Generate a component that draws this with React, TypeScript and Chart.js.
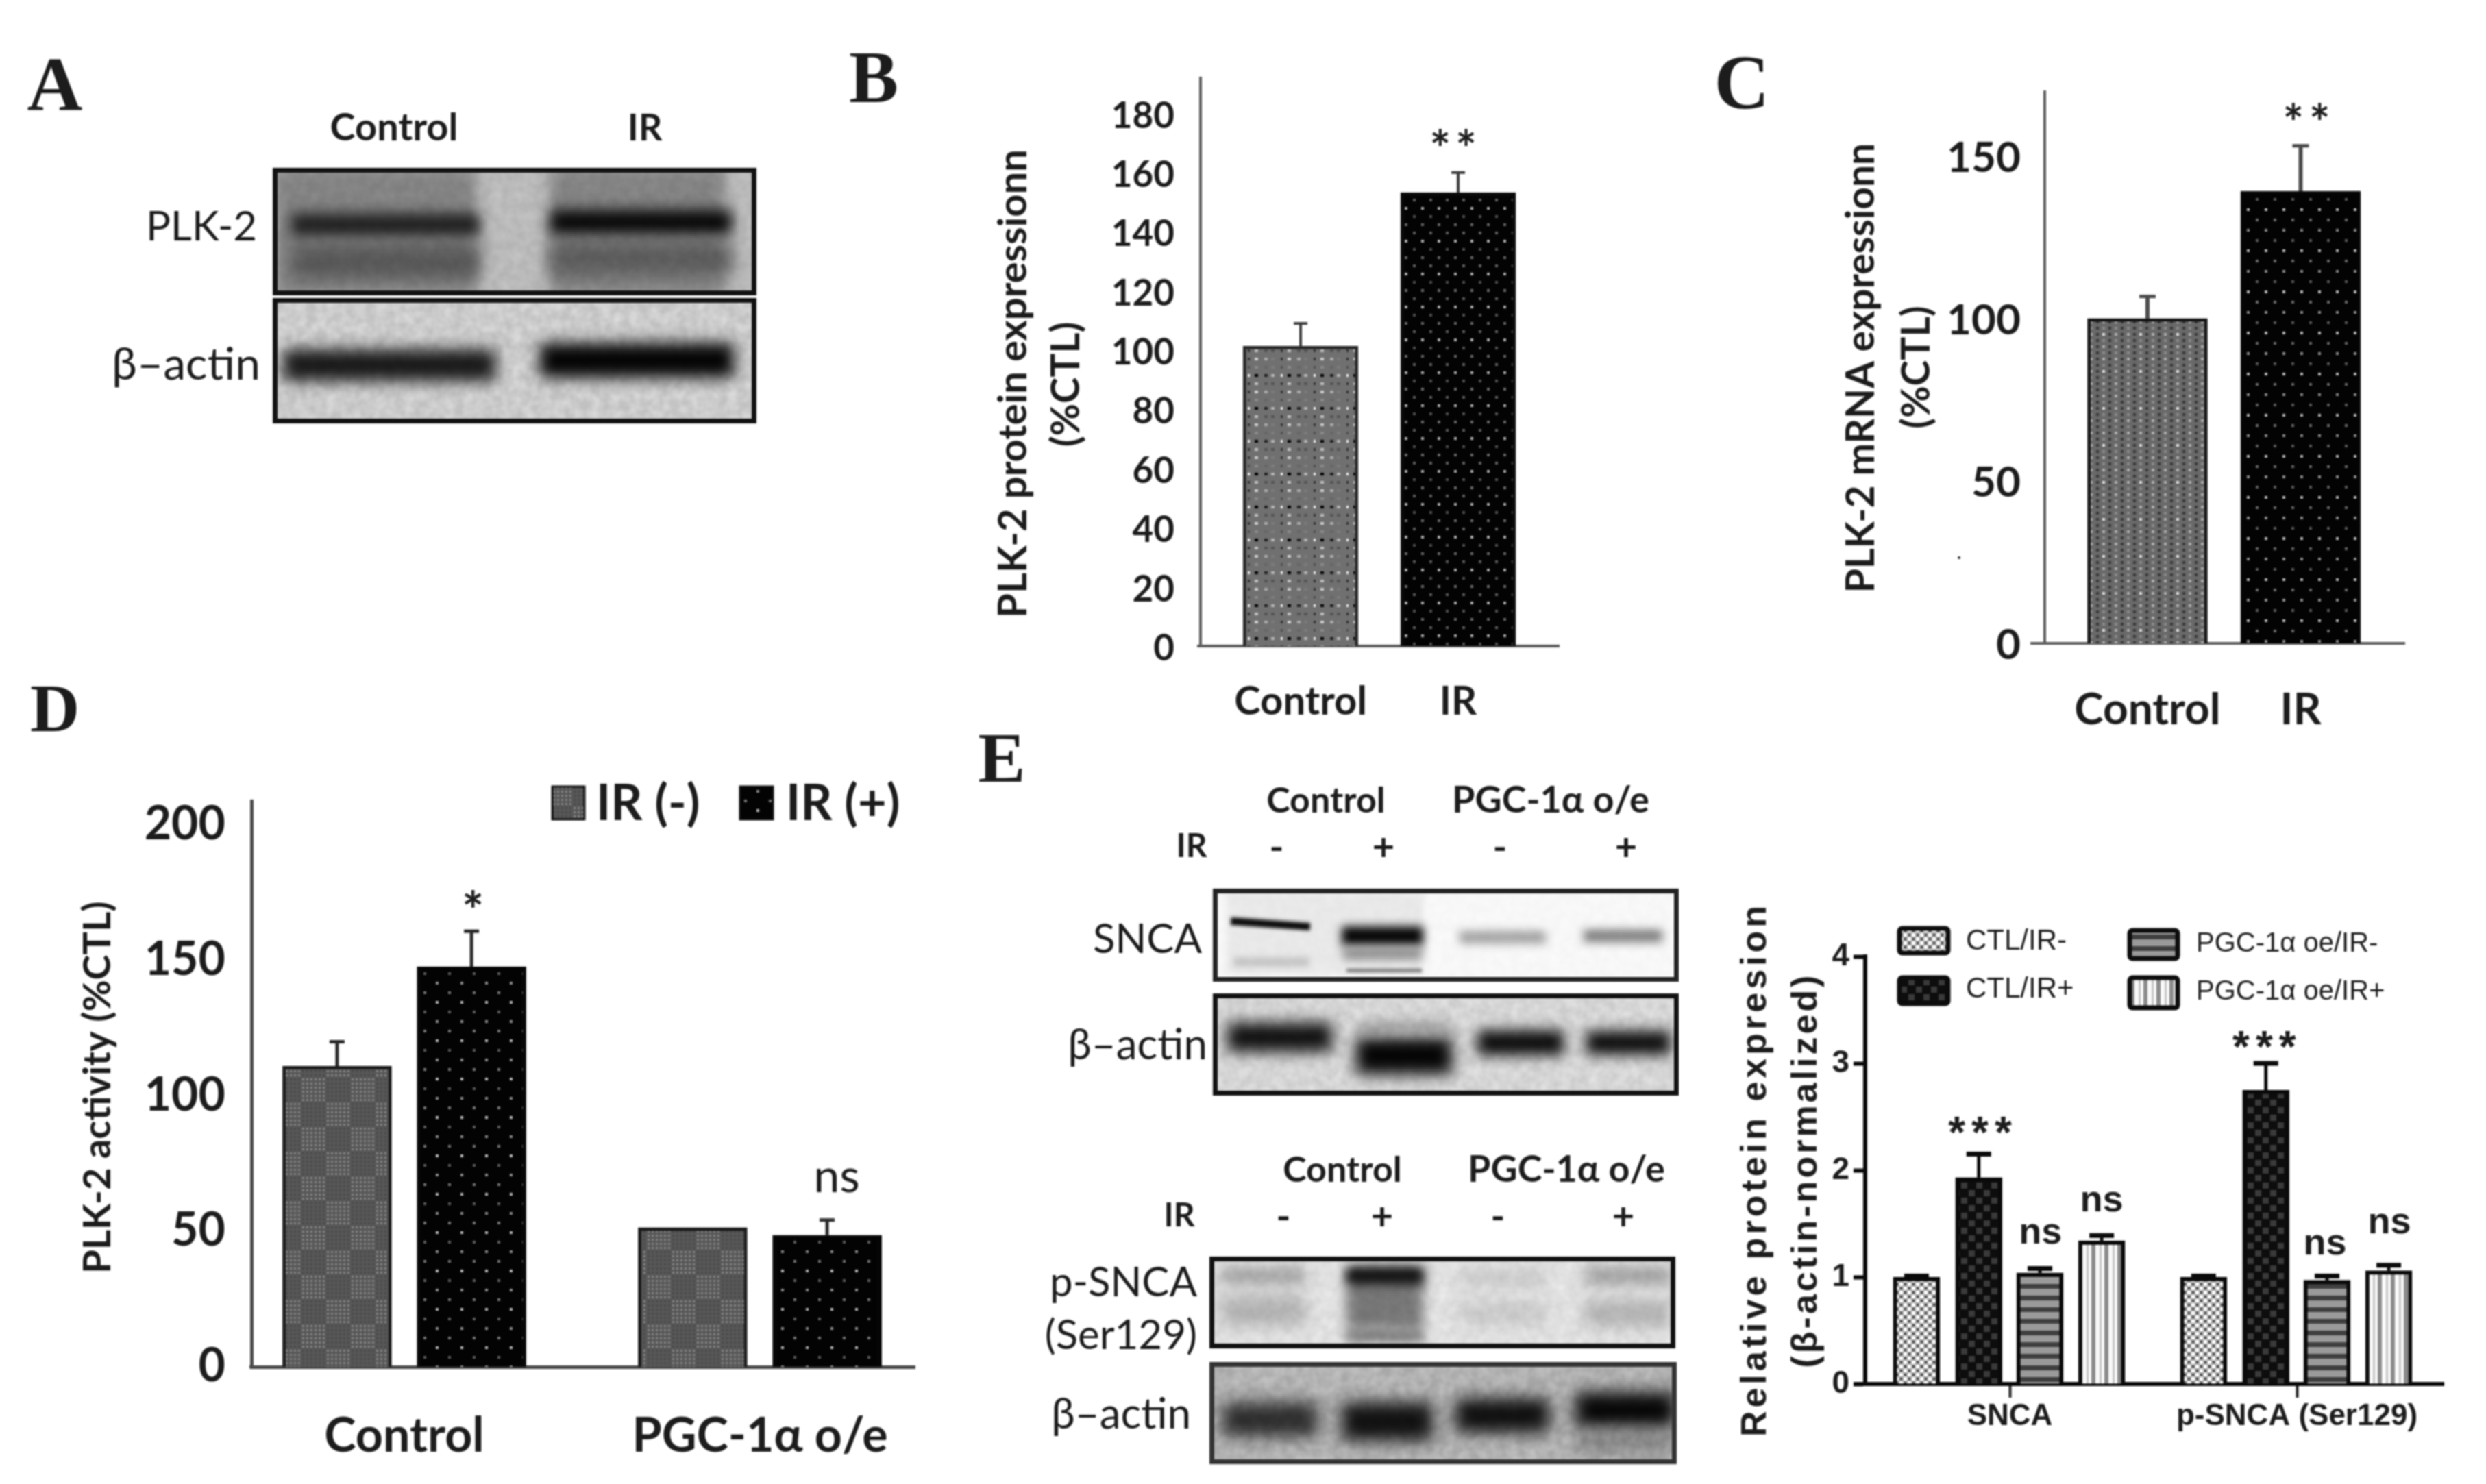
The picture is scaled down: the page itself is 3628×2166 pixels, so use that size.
import React, { useEffect, useRef } from 'react';
import { Chart, registerables } from 'chart.js';

Chart.register(...registerables);

const LATO = 'Lato, "Noto Sans", sans-serif';
const ARIAL = '"Liberation Sans", Arial, sans-serif';
const SERIF = '"Liberation Serif", "Times New Roman", serif';
const INK = '#1c1c1c';

// ---------- data ----------
const controlIrCategories = ['Control', 'IR'];
const proteinValues = [101.4, 153.2];
const proteinErrors = [7.6, 6.8];
const mrnaValues = [100, 139.2];
const mrnaErrors = [6.8, 14];

const activityCategories = ['Control', 'PGC-1α o/e'];
const activityIrMinus = [111, 51.4];
const activityIrMinusErrors = [9, 0];
const activityIrPlus = [147.7, 48.6];
const activityIrPlusErrors = [13.1, 5.6];

const snCategories = ['SNCA', 'p-SNCA (Ser129)'];
const ctlIrMinus = [1.0, 1.0];
const ctlIrMinusErrors = [0.01, 0.01];
const ctlIrPlus = [1.93, 2.75];
const ctlIrPlusErrors = [0.22, 0.25];
const pgcIrMinus = [1.04, 0.97];
const pgcIrMinusErrors = [0.04, 0.04];
const pgcIrPlus = [1.34, 1.06];
const pgcIrPlusErrors = [0.05, 0.05];

// ---------- hatch tiles ----------
type G = CanvasRenderingContext2D;
function tile(w: number, h: number, bg: string, draw: (g: G) => void) {
  const c = document.createElement('canvas');
  c.width = w;
  c.height = h;
  const g = c.getContext('2d') as G;
  g.fillStyle = bg;
  g.fillRect(0, 0, w, h);
  draw(g);
  return c;
}
function dotRows(g: G, xs: number[], rows: [number, string[]][], dw = 5, dh = 4) {
  rows.forEach(([y, cols]) =>
    cols.forEach((col, i) => {
      g.fillStyle = col;
      g.fillRect(xs[i], y, dw, dh);
    })
  );
}
function lattice(dx: number, dy: number, shades: string[], size = 4) {
  return tile(dx, dy * shades.length, '#030303', (g) => {
    shades.forEach((s, r) => {
      g.fillStyle = s;
      if (r % 2 === 0) g.fillRect(dx / 2 - size / 2, r * dy, size, size);
      else {
        g.fillRect(0, r * dy, size / 2, size);
        g.fillRect(dx - size / 2, r * dy, size / 2, size);
      }
    });
  });
}
const tiles: Record<string, () => HTMLCanvasElement> = {
  grayB: () =>
    tile(48, 48, '#707070', (g) =>
      dotRows(g, [7, 21, 31, 45], [
        [4, ['#000', '#222', '#b5b5b5', '#efefef']],
        [16, ['#c0c0c0', '#555', '#555', '#333']],
        [28, ['#cfcfcf', '#aaa', '#7a7a7a', '#333']],
        [40, ['#8a8a8a', '#666', '#7c7c7c', '#505050']],
      ])
    ),
  grayC: () =>
    tile(54, 54, '#696969', (g) => {
      for (let i = 0; i < 6; i++)
        for (let j = 0; j < 6; j++) {
          g.fillStyle = i % 2 === 1 ? '#383838' : j % 2 === 0 ? '#b0b0b0' : '#8a8a8a';
          if (i === 2 && j === 2) g.fillStyle = '#e2e2e2';
          g.fillRect(i * 9 + 2, j * 9 + 2, 4, 4);
        }
    }),
  grayD: () =>
    tile(72, 72, '#575757', (g) => {
      for (let i = 0; i < 12; i++)
        for (let j = 0; j < 12; j++) {
          const lit = i < 6 === j < 6;
          g.fillStyle = lit ? '#868686' : '#4a4a4a';
          g.fillRect(i * 6 + 1, j * 6 + 1, 3, 3);
        }
    }),
  blackB: () => lattice(24, 12, ['#b0b0b0', '#505050', '#6a6a6a', '#606060']),
  blackC: () => lattice(26, 15, ['#8c8c8c', '#5a5a5a', '#b8b8b8', '#6a6a6a']),
  blackD: () => lattice(36, 14, ['#b8b8b8', '#5c5c5c', '#8a8a8a', '#777777']),
  ctlMinus: () =>
    tile(12, 12, '#a8a8a8', (g) => {
      g.fillStyle = '#fff';
      g.fillRect(0, 0, 5, 5);
      g.fillRect(6, 6, 5, 5);
      g.fillStyle = '#3a3a3a';
      g.fillRect(7, 1, 3, 3);
      g.fillRect(1, 7, 3, 3);
    }),
  ctlPlus: () =>
    tile(22, 22, '#0d0d0d', (g) => {
      g.fillStyle = '#3a3a3a';
      g.fillRect(1, 1, 9, 9);
      g.fillRect(12, 12, 9, 9);
    }),
  pgcMinus: () =>
    tile(17, 17, '#9a9a9a', (g) => {
      g.fillStyle = '#3f3f3f';
      g.fillRect(0, 0, 17, 7);
    }),
  pgcPlus: () =>
    tile(19, 19, '#fafafa', (g) => {
      g.fillStyle = '#8a8a8a';
      g.fillRect(0, 0, 6, 19);
      g.fillStyle = '#c4c4c4';
      g.fillRect(12, 0, 3, 19);
    }),
};

// ---------- panel descriptions ----------
type Note = { text: string; x: number; y: number; size: number; weight?: string; family?: string; ls?: number; dy?: number };
type PageText = { text: string; x: number; y: number; size: number; weight?: string; family?: string; rot?: boolean; ls?: number; align?: CanvasTextAlign };
type Swatch = { fill: string; x0: number; y0: number; x1: number; y1: number; bw: number; r?: number };
type Series = { label: string; values: number[]; errors: number[]; offset: number; fill: string; border: string };
type Spec = {
  area: [number, number, number, number];
  yW: number; xH: number; padTop: number; padRight: number;
  yMax: number; yStep: number; xMin: number; xMax: number;
  categories: string[]; series: Series[];
  barW: number; barBorder: number;
  tickFont: { family: string; size: number; weight: string };
  xFont: { family: string; size: number; weight: string };
  yPad: number; yLabelShift: number; xLabelY: number;
  axisColor: string; axisW: number; extendLeft: number;
  yTickLen: number; xTickLen: number; tickColor: string; tickW: number;
  err: { color: string; w: number; cap: number; capW: number };
  notes: Note[]; pageTexts: PageText[]; swatches: Swatch[];
};

const boldLato = (size: number) => ({ family: LATO, size, weight: 'bold' });
const boldArial = (size: number) => ({ family: ARIAL, size, weight: 'bold' });

const panelB: Spec = {
  area: [1752, 114, 2275, 943], yW: 360, xH: 130, padTop: 100, padRight: 100,
  yMax: 191.9, yStep: 20, xMin: -0.635, xMax: 1.639,
  categories: controlIrCategories,
  series: [{ label: 'PLK-2 protein', values: proteinValues, errors: proteinErrors, offset: 0, fill: 'grayB|blackB', border: '#2a2a2a|#0a0a0a' }],
  barW: 168, barBorder: 5,
  tickFont: boldLato(53), xFont: boldLato(58),
  yPad: 38, yLabelShift: 4, xLabelY: 1024,
  axisColor: '#5a5a5a', axisW: 4, extendLeft: 5,
  yTickLen: 0, xTickLen: 0, tickColor: '#555', tickW: 2,
  err: { color: '#3a3a3a', w: 4, cap: 20, capW: 4 },
  notes: [{ text: '**', x: 0.983, y: 170.4, size: 72, weight: 'bold', family: LATO, ls: 7, dy: 14 }],
  pageTexts: [
    { text: 'PLK-2 protein expressionn', x: 1479, y: 560, size: 58, weight: 'bold', family: LATO, rot: true },
    { text: '(%CTL)', x: 1556, y: 561, size: 58, weight: 'bold', family: LATO, rot: true },
  ],
  swatches: [],
};

const panelC: Spec = {
  area: [2984, 134, 3509, 939], yW: 314, xH: 140, padTop: 100, padRight: 100,
  yMax: 169.8, yStep: 50, xMin: -0.671, xMax: 1.678,
  categories: controlIrCategories,
  series: [{ label: 'PLK-2 mRNA', values: mrnaValues, errors: mrnaErrors, offset: 0, fill: 'grayC|blackC', border: '#151515|#050505' }],
  barW: 175, barBorder: 5,
  tickFont: boldLato(62), xFont: boldLato(64),
  yPad: 35, yLabelShift: 3, xLabelY: 1036,
  axisColor: '#5a5a5a', axisW: 4, extendLeft: 21,
  yTickLen: 0, xTickLen: 0, tickColor: '#555', tickW: 2,
  err: { color: '#4a4a4a', w: 6, cap: 24, capW: 5 },
  notes: [{ text: '**', x: 1.056, y: 162.4, size: 72, weight: 'bold', family: LATO, ls: 8, dy: 14 }],
  pageTexts: [
    { text: 'PLK-2 mRNA expressionn', x: 2717, y: 537, size: 57, weight: 'bold', family: LATO, rot: true },
    { text: '(%CTL)', x: 2798, y: 536, size: 57, weight: 'bold', family: LATO, rot: true },
    { text: '.', x: 2859, y: 808, size: 26, weight: 'bold', family: LATO },
  ],
  swatches: [],
};

const panelD: Spec = {
  area: [367, 1169, 1335, 1995], yW: 287, xH: 160, padTop: 100, padRight: 120,
  yMax: 208.9, yStep: 50, xMin: -0.4297, xMax: 1.4355,
  categories: activityCategories,
  series: [
    { label: 'IR (-)', values: activityIrMinus, errors: activityIrMinusErrors, offset: -0.189, fill: 'grayD', border: '#1c1c1c' },
    { label: 'IR (+)', values: activityIrPlus, errors: activityIrPlusErrors, offset: 0.189, fill: 'blackD', border: '#050505' },
  ],
  barW: 159, barBorder: 5,
  tickFont: boldLato(68), xFont: boldLato(70),
  yPad: 38, yLabelShift: -1, xLabelY: 2096,
  axisColor: '#4a4a4a', axisW: 5, extendLeft: 3,
  yTickLen: 0, xTickLen: 0, tickColor: '#555', tickW: 2,
  err: { color: '#2a2a2a', w: 5, cap: 22, capW: 5 },
  notes: [
    { text: '*', x: 0.193, y: 171, size: 76, weight: 'bold', family: LATO, dy: 14 },
    { text: 'ns', x: 1.216, y: 70, size: 68, weight: 'normal', family: LATO },
  ],
  pageTexts: [
    { text: 'PLK-2 activity (%CTL)', x: 143, y: 1587, size: 56, weight: 'bold', family: LATO, rot: true },
    { text: 'IR (-)', x: 870, y: 1174, size: 72, weight: 'bold', family: LATO, align: 'left' },
    { text: 'IR (+)', x: 1147, y: 1174, size: 72, weight: 'bold', family: LATO, align: 'left' },
  ],
  swatches: [
    { fill: 'grayD', x0: 806, y0: 1148, x1: 853, y1: 1196, bw: 3 },
    { fill: 'blackD', x0: 1080, y0: 1148, x1: 1128, y1: 1196, bw: 3 },
  ],
};

const panelE: Spec = {
  area: [2722, 1396, 3566, 2020], yW: 202, xH: 90, padTop: 100, padRight: 40,
  yMax: 4, yStep: 1, xMin: -0.5036, xMax: 1.5107,
  categories: snCategories,
  series: [
    { label: 'CTL/IR-', values: ctlIrMinus, errors: ctlIrMinusErrors, offset: -0.325, fill: 'ctlMinus', border: '#0a0a0a' },
    { label: 'CTL/IR+', values: ctlIrPlus, errors: ctlIrPlusErrors, offset: -0.108, fill: 'ctlPlus', border: '#0a0a0a' },
    { label: 'PGC-1α oe/IR-', values: pgcIrMinus, errors: pgcIrMinusErrors, offset: 0.105, fill: 'pgcMinus', border: '#0a0a0a' },
    { label: 'PGC-1α oe/IR+', values: pgcIrPlus, errors: pgcIrPlusErrors, offset: 0.32, fill: 'pgcPlus', border: '#0a0a0a' },
  ],
  barW: 68, barBorder: 6,
  tickFont: boldArial(46), xFont: boldArial(44),
  yPad: 6, yLabelShift: 0, xLabelY: 2068,
  axisColor: '#0a0a0a', axisW: 6, extendLeft: 17,
  yTickLen: 17, xTickLen: 20, tickColor: '#222', tickW: 4,
  err: { color: '#0a0a0a', w: 5, cap: 36, capW: 7 },
  notes: [
    { text: '***', x: -0.093, y: 2.4, size: 64, weight: 'bold', family: ARIAL, ls: 9, dy: 12 },
    { text: 'ns', x: 0.107, y: 1.41, size: 54, weight: 'bold', family: ARIAL },
    { text: 'ns', x: 0.32, y: 1.71, size: 54, weight: 'bold', family: ARIAL },
    { text: '***', x: 0.897, y: 3.2, size: 64, weight: 'bold', family: ARIAL, ls: 9, dy: 12 },
    { text: 'ns', x: 1.098, y: 1.31, size: 54, weight: 'bold', family: ARIAL },
    { text: 'ns', x: 1.322, y: 1.506, size: 54, weight: 'bold', family: ARIAL },
  ],
  pageTexts: [
    { text: 'Relative protein expresion', x: 2563, y: 1707, size: 52, weight: 'bold', family: ARIAL, rot: true, ls: 5 },
    { text: '(β-actin-normalized)', x: 2637, y: 1708, size: 52, weight: 'bold', family: ARIAL, rot: true, ls: 4 },
    { text: 'CTL/IR-', x: 2869, y: 1374, size: 42, weight: 'normal', family: ARIAL, align: 'left' },
    { text: 'CTL/IR+', x: 2869, y: 1444, size: 42, weight: 'normal', family: ARIAL, align: 'left' },
    { text: 'PGC-1α oe/IR-', x: 3205, y: 1378, size: 40, weight: 'normal', family: ARIAL, align: 'left' },
    { text: 'PGC-1α oe/IR+', x: 3205, y: 1448, size: 40, weight: 'normal', family: ARIAL, align: 'left' },
  ],
  swatches: [
    { fill: 'ctlMinus', x0: 2772, y0: 1355, x1: 2843, y1: 1391, bw: 7, r: 4 },
    { fill: 'ctlPlus', x0: 2772, y0: 1427, x1: 2843, y1: 1465, bw: 7, r: 4 },
    { fill: 'pgcMinus', x0: 3108, y0: 1358, x1: 3178, y1: 1399, bw: 7, r: 4 },
    { fill: 'pgcPlus', x0: 3108, y0: 1427, x1: 3178, y1: 1471, bw: 7, r: 4 },
  ],
};

// ---------- one bar chart ----------
function BarPanel({ spec }: { spec: Spec }) {
  const ref = useRef<HTMLCanvasElement>(null);
  const [l, t, r, b] = spec.area;
  const left = l - spec.yW;
  const top = t - spec.padTop;
  const width = r - l + spec.yW + spec.padRight;
  const height = b - t + spec.padTop + spec.xH;

  useEffect(() => {
    const canvas = ref.current as HTMLCanvasElement;
    const ctx = canvas.getContext('2d') as G;
    const patterns: Record<string, CanvasPattern> = {};
    const pat = (name: string) => {
      if (!patterns[name]) patterns[name] = ctx.createPattern(tiles[name](), 'repeat') as CanvasPattern;
      return patterns[name];
    };
    const pick = (s: string, i: number) => {
      const parts = s.split('|');
      return parts[Math.min(i, parts.length - 1)];
    };
    const writer = (g: G, tx: PageText | Note, x: number, y: number, rot?: boolean, align: CanvasTextAlign = 'center') => {
      g.save();
      g.font = `${tx.weight || 'normal'} ${tx.size}px ${tx.family || LATO}`;
      g.fillStyle = INK;
      g.textAlign = align;
      g.textBaseline = 'middle';
      (g as any).letterSpacing = `${tx.ls || 0}px`;
      g.translate(x, y);
      if (rot) g.rotate(-Math.PI / 2);
      g.fillText(tx.text, 0, 0);
      g.restore();
    };

    const overlay = {
      id: 'overlay',
      afterDatasetsDraw(chart: any) {
        const g = chart.ctx as G;
        const ys = chart.scales.y;
        const xs = chart.scales.x;
        // axis stub left of the y axis
        if (spec.extendLeft) {
          g.save();
          g.strokeStyle = spec.axisColor;
          g.lineWidth = spec.axisW;
          g.beginPath();
          g.moveTo(chart.chartArea.left - spec.extendLeft, chart.chartArea.bottom);
          g.lineTo(chart.chartArea.left, chart.chartArea.bottom);
          g.stroke();
          g.restore();
        }
        // upper error bars
        spec.series.forEach((s, si) => {
          const meta = chart.getDatasetMeta(si);
          meta.data.forEach((el: any, i: number) => {
            if (!s.errors[i]) return;
            const yTop = ys.getPixelForValue(s.values[i] + s.errors[i]);
            g.save();
            g.strokeStyle = spec.err.color;
            g.lineWidth = spec.err.w;
            g.beginPath();
            g.moveTo(el.x, el.y);
            g.lineTo(el.x, yTop);
            g.stroke();
            g.lineWidth = spec.err.capW;
            g.beginPath();
            g.moveTo(el.x - spec.err.cap / 2, yTop);
            g.lineTo(el.x + spec.err.cap / 2, yTop);
            g.stroke();
            g.restore();
          });
        });
        // significance marks, placed in data units
        spec.notes.forEach((n) =>
          writer(g, n, xs.getPixelForValue(n.x), ys.getPixelForValue(n.y) + (n.dy || 0))
        );
        // axis titles and legend
        spec.pageTexts.forEach((p) => writer(g, p, p.x - left, p.y - top, p.rot, p.align || 'center'));
        spec.swatches.forEach((s) => {
          g.save();
          const x = s.x0 - left;
          const y = s.y0 - top;
          const w = s.x1 - s.x0;
          const h = s.y1 - s.y0;
          g.beginPath();
          g.roundRect(x, y, w, h, s.r || 0);
          g.fillStyle = pat(s.fill);
          g.fill();
          g.strokeStyle = '#0c0c0c';
          g.lineWidth = s.bw;
          g.stroke();
          g.restore();
        });
      },
    };

    const chart = new Chart(ctx, {
      type: 'bar',
      data: {
        datasets: spec.series.map((s) => ({
          label: s.label,
          data: s.values.map((v, i) => ({ x: i + s.offset, y: v })),
          backgroundColor: s.values.map((_, i) => pat(pick(s.fill, i))),
          borderColor: s.values.map((_, i) => pick(s.border, i)),
          borderWidth: spec.barBorder,
          borderSkipped: 'bottom',
          barThickness: spec.barW,
          grouped: false,
        })),
      },
      options: {
        animation: false,
        responsive: false,
        devicePixelRatio: 1,
        layout: { padding: { top: spec.padTop, right: spec.padRight, left: 0, bottom: 0 } },
        plugins: { legend: { display: false }, tooltip: { enabled: false }, title: { display: false } },
        scales: {
          x: {
            type: 'linear',
            offset: false,
            min: spec.xMin,
            max: spec.xMax,
            afterFit: (s: any) => { s.height = spec.xH; },
            afterBuildTicks: (s: any) => { s.ticks = spec.categories.map((_, i) => ({ value: i })); },
            grid: { offset: false, display: spec.xTickLen > 0, drawOnChartArea: false, drawTicks: spec.xTickLen > 0, tickLength: spec.xTickLen, tickColor: spec.tickColor, tickWidth: spec.tickW },
            border: { display: true, color: spec.axisColor, width: spec.axisW },
            ticks: {
              autoSkip: false, maxRotation: 0, minRotation: 0,
              font: spec.xFont, color: INK,
              padding: spec.xLabelY - b - spec.xFont.size * 0.6 - spec.xTickLen,
              callback: (v: any) => spec.categories[v],
            },
          },
          y: {
            min: 0,
            max: spec.yMax,
            afterFit: (s: any) => { s.width = spec.yW; },
            grid: { display: spec.yTickLen > 0, drawOnChartArea: false, drawTicks: spec.yTickLen > 0, tickLength: spec.yTickLen, tickColor: spec.axisColor, tickWidth: spec.axisW },
            border: { display: true, color: spec.axisColor, width: spec.axisW },
            ticks: {
              stepSize: spec.yStep, includeBounds: false,
              font: spec.tickFont, color: INK, padding: spec.yPad, labelOffset: spec.yLabelShift,
            },
          },
        },
      },
      plugins: [overlay],
    } as any);
    return () => chart.destroy();
  }, []);

  return (
    <canvas
      ref={ref}
      width={width}
      height={height}
      style={{ position: 'absolute', left, top, width, height, display: 'block' }}
    />
  );
}

// ---------- blots (photographic panels) ----------
type Band = [number, number, number, number, string, number, number?]; // x0, x1, yCentre, h, colour, blur, tilt
type Blot = { box: [number, number, number, number]; bg: string; border: string; grain: number; bands: Band[] };

const blots: Blot[] = [
  {
    box: [398, 245, 1104, 431], bg: '#c4c4c4', border: '#111', grain: 0.08,
    bands: [
      [400, 695, 338, 190, '#8a8a8a', 10], [802, 1058, 338, 190, '#8a8a8a', 10],
      [425, 700, 328, 32, '#1e1e1e', 10], [425, 700, 382, 50, '#5c5c5c', 12],
      [803, 1068, 324, 34, '#050505', 10], [803, 1068, 378, 46, '#5f5f5f', 13],
    ],
  },
  {
    box: [398, 435, 1104, 618], bg: '#dcdcdc', border: '#111', grain: 0.12,
    bands: [[413, 723, 533, 46, '#1a1a1a', 11], [788, 1071, 526, 50, '#030303', 11]],
  },
  {
    box: [1770, 1297, 2450, 1433], bg: '#fbfbfb', border: '#222', grain: 0.02,
    bands: [
      [1790, 2077, 1362, 120, '#ececec', 4],
      [1796, 1912, 1348, 11, '#0a0a0a', 2.5, 4], [1800, 1910, 1404, 14, '#c8c8c8', 4],
      [1958, 2077, 1366, 28, '#050505', 7], [1960, 2075, 1392, 16, '#888', 7], [1965, 2075, 1416, 5, '#777', 2],
      [2130, 2256, 1368, 18, '#a0a0a0', 7], [2311, 2426, 1366, 18, '#7a7a7a', 7],
    ],
  },
  {
    box: [1770, 1450, 2450, 1599], bg: '#e4e4e4', border: '#111', grain: 0.1,
    bands: [
      [1791, 1944, 1514, 42, '#0f0f0f', 11], [1979, 2119, 1541, 54, '#050505', 11],
      [1985, 2115, 1500, 14, '#999', 9],
      [2156, 2282, 1522, 36, '#0a0a0a', 10], [2315, 2438, 1522, 34, '#0a0a0a', 10],
    ],
  },
  {
    box: [1765, 1834, 2445, 1968], bg: '#ececec', border: '#111', grain: 0.07,
    bands: [
      [1782, 1905, 1862, 22, '#a0a0a0', 10], [1782, 1905, 1913, 44, '#b8b8b8', 12],
      [1965, 2077, 1895, 90, '#7c7c7c', 9], [1965, 2077, 1862, 24, '#0c0c0c', 8], [1965, 2077, 1950, 16, '#6a6a6a', 8],
      [2130, 2256, 1865, 22, '#cfcfcf', 10], [2130, 2256, 1917, 32, '#cfcfcf', 12],
      [2312, 2438, 1862, 24, '#a0a0a0', 10], [2312, 2438, 1917, 38, '#b8b8b8', 12],
    ],
  },
  {
    box: [1765, 1988, 2447, 2137], bg: '#c4c4c4', border: '#333', grain: 0.14,
    bands: [
      [1784, 1923, 2072, 50, '#303030', 12], [1958, 2091, 2075, 56, '#111', 12],
      [2124, 2261, 2066, 50, '#0f0f0f', 12], [2299, 2445, 2058, 52, '#060606', 12],
      [2299, 2445, 2105, 30, '#8c8c8c', 12],
    ],
  },
];

function BlotFrame({ blot, index }: { blot: Blot; index: number }) {
  const [x0, y0, x1, y1] = blot.box;
  const id = `grain${index}`;
  return (
    <div style={{ position: 'absolute', left: x0, top: y0, width: x1 - x0, height: y1 - y0, boxSizing: 'border-box', border: `7px solid ${blot.border}`, background: blot.bg, overflow: 'hidden' }}>
      {blot.bands.map(([a, c, y, h, col, blur, tilt], i) => (
        <div key={i} style={{ position: 'absolute', left: a - x0 - 7, top: y - h / 2 - y0 - 7, width: c - a, height: h, background: col, filter: `blur(${blur}px)`, transform: tilt ? `rotate(${tilt}deg)` : undefined }} />
      ))}
      <svg width={x1 - x0} height={y1 - y0} style={{ position: 'absolute', left: 0, top: 0, opacity: blot.grain, mixBlendMode: 'multiply' }}>
        <filter id={id}>
          <feTurbulence type="fractalNoise" baseFrequency="0.07" numOctaves={2} seed={index + 3} />
          <feColorMatrix type="matrix" values="0 0 0 0 0  0 0 0 0 0  0 0 0 0 0  1.6 0 0 0 -0.2" />
        </filter>
        <rect width="100%" height="100%" filter={`url(#${id})`} />
      </svg>
    </div>
  );
}

// ---------- free text on the blot panels ----------
type Label = { text: string; x: number; y: number; size: number; weight?: string; family?: string; right?: boolean };
const letters: Label[] = [
  { text: 'A', x: 80, y: 123, size: 112, weight: 'bold', family: SERIF },
  { text: 'B', x: 1275, y: 113, size: 108, weight: 'bold', family: SERIF },
  { text: 'C', x: 2542, y: 120, size: 112, weight: 'bold', family: SERIF },
  { text: 'D', x: 80, y: 1034, size: 100, weight: 'bold', family: SERIF },
  { text: 'E', x: 1462, y: 1106, size: 104, weight: 'bold', family: SERIF },
];
const blotLabels: Label[] = [
  { text: 'Control', x: 575, y: 184, size: 56, weight: 'bold' },
  { text: 'IR', x: 941, y: 185, size: 54, weight: 'bold' },
  { text: 'PLK-2', x: 375, y: 328, size: 60, right: true },
  { text: 'β–actin', x: 380, y: 529, size: 66, right: true },
  { text: 'Control', x: 1935, y: 1166, size: 52, weight: 'bold' },
  { text: 'PGC-1α o/e', x: 2263, y: 1166, size: 54, weight: 'bold' },
  { text: 'IR', x: 1739, y: 1233, size: 48, weight: 'bold' },
  { text: '-', x: 1863, y: 1235, size: 56, weight: 'bold' },
  { text: '+', x: 2019, y: 1235, size: 56, weight: 'bold' },
  { text: '-', x: 2189, y: 1235, size: 56, weight: 'bold' },
  { text: '+', x: 2373, y: 1235, size: 56, weight: 'bold' },
  { text: 'SNCA', x: 1754, y: 1368, size: 60, right: true },
  { text: 'β–actin', x: 1762, y: 1522, size: 62, right: true },
  { text: 'Control', x: 1959, y: 1705, size: 52, weight: 'bold' },
  { text: 'PGC-1α o/e', x: 2286, y: 1705, size: 54, weight: 'bold' },
  { text: 'IR', x: 1721, y: 1772, size: 48, weight: 'bold' },
  { text: '-', x: 1873, y: 1774, size: 56, weight: 'bold' },
  { text: '+', x: 2017, y: 1774, size: 56, weight: 'bold' },
  { text: '-', x: 2186, y: 1774, size: 56, weight: 'bold' },
  { text: '+', x: 2369, y: 1774, size: 56, weight: 'bold' },
  { text: 'p-SNCA', x: 1747, y: 1869, size: 60, right: true },
  { text: '(Ser129)', x: 1747, y: 1946, size: 60, right: true },
  { text: 'β–actin', x: 1738, y: 2061, size: 62, right: true },
];

function FreeText({ item }: { item: Label }) {
  return (
    <div style={{
      position: 'absolute', left: item.x, top: item.y, whiteSpace: 'nowrap', lineHeight: 1,
      transform: item.right ? 'translate(-100%,-50%)' : 'translate(-50%,-50%)',
      font: `${item.weight || 'normal'} ${item.size}px/1 ${item.family || LATO}`, color: INK,
    }}>{item.text}</div>
  );
}

export default function App() {
  return (
    <div style={{ position: 'absolute', left: 0, top: 0, width: 3628, height: 2166, background: '#fff', overflow: 'hidden', filter: 'blur(1.3px)' }}>
      {blots.map((b, i) => <BlotFrame key={i} blot={b} index={i} />)}
      {[panelB, panelC, panelD, panelE].map((s, i) => <BarPanel key={i} spec={s} />)}
      {letters.map((l, i) => <FreeText key={`l${i}`} item={l} />)}
      {blotLabels.map((l, i) => <FreeText key={`b${i}`} item={l} />)}
    </div>
  );
}
